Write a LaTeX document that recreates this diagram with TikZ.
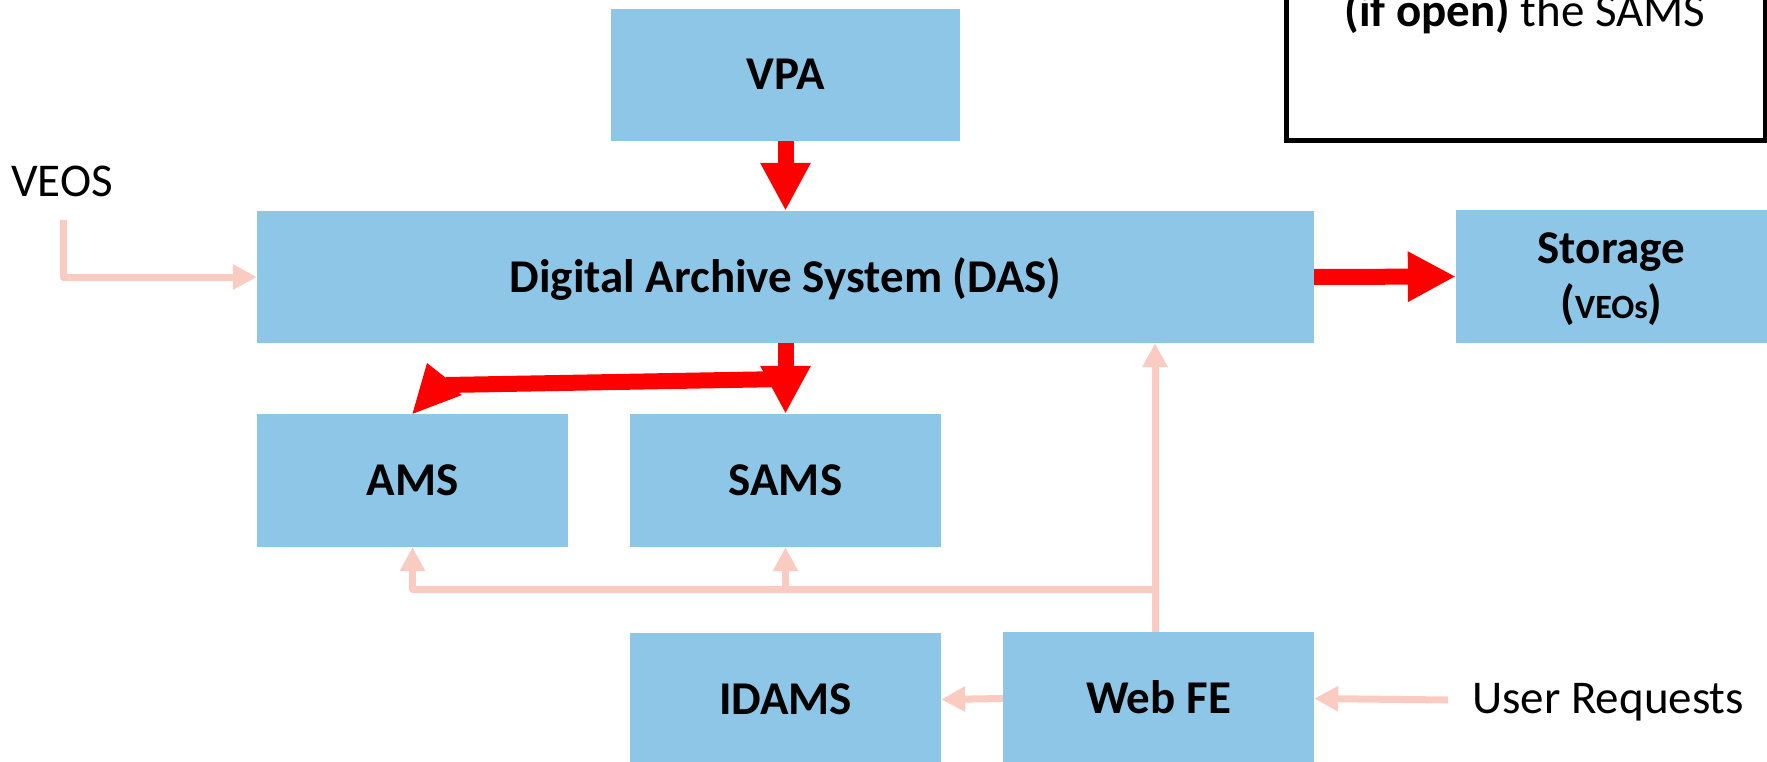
\documentclass[tikz,border=0pt]{standalone}
\usepackage{fontspec}
\setmainfont{Carlito}
\usetikzlibrary{arrows.meta}
\definecolor{boxblue}{RGB}{142,198,232}
\definecolor{pinkline}{RGB}{250,204,193}
\definecolor{redarrow}{RGB}{255,0,0}
\begin{document}
\begin{tikzpicture}[x=1pt,y=-1pt,
  box/.style={fill=boxblue, draw=none, inner sep=0pt, text=black,
    minimum width=311pt, minimum height=133pt,
    font=\fontsize{47}{55}\selectfont\bfseries},
  caps/.style={text height=30pt, text depth=0pt},
  plain/.style={inner sep=0pt, text=black, font=\fontsize{47}{55}\selectfont},
  redarr/.style={draw=redarrow, line width=16pt,
    -{Triangle[length=48pt,width=47pt]}},
  pinkarr/.style={draw=pinkline, line width=7pt, line join=round,
    -{Triangle[length=24pt,width=24pt]}}]
\useasboundingbox (0,0) rectangle (1767,762);
\clip (0,0) rectangle (1767,762);
% boxes
\node[box, caps, minimum width=349pt, minimum height=132pt] (VPA) at (785.5,75) {VPA};
\node[box, caps, minimum width=1057pt, minimum height=132pt] (DAS) at (785.5,277) {Digital Archive System (DAS)};
\node[box, minimum height=133pt] (Storage) at (1611.5,276.5) {};
\node[box, fill=none, align=center, minimum width=0pt, minimum height=0pt, anchor=base] (StorageText) at (1611.5,318) {Storage\\[0pt]({\fontsize{34}{40}\selectfont VEOs})};
\node[box, caps] (AMS) at (412.5,480.5) {AMS};
\node[box, caps] (SAMS) at (785.5,480.5) {SAMS};
\node[box, caps] (IDAMS) at (785.5,699.5) {IDAMS};
\node[box, caps] (WebFE) at (1158.5,698.5) {Web FE};
% labels
\node[plain] (VEOS) at (62,181) {VEOS};
\node[plain, anchor=base west] (User) at (1472,713) {User Requests};
% note box (cropped)
\draw[line width=5pt] (1286.5,-20) -- (1286.5,141) -- (1765,141) -- (1765,-20);
\node[plain, anchor=base] (note) at (1525,27) {\textbf{(if open)} the SAMS};
% red arrows
\draw[redarr] (VPA.south) -- (DAS.north);
\draw[redarr] (DAS.east) -- (Storage.west);
\draw[redarr] (DAS.south) -- (SAMS.north);
\coordinate (rj) at (785,379);
\coordinate (rb) at (446,385);
\draw[draw=redarrow, line width=16pt] (rj) -- (rb);
\fill[redarrow] (AMS.north) -- (427,363) -- (446,378) -- (457,392) -- (462,395) -- cycle;
% pink connectors
\coordinate (veosStart) at (63,220);
\draw[pinkarr] (veosStart) |- (DAS.west);
\coordinate (j1) at (1155,589);
\draw[pinkarr] (WebFE.north -| j1) -- (DAS.south -| j1);
\draw[pinkarr] (j1) -| (AMS.south);
\draw[pinkarr] (SAMS.south |- j1) -- (SAMS.south);
\draw[pinkarr] (WebFE.west) -- (IDAMS.east);
\coordinate (uStart) at (1448,700);
\draw[pinkarr] (uStart) -- (WebFE.east);
\end{tikzpicture}
\end{document}
